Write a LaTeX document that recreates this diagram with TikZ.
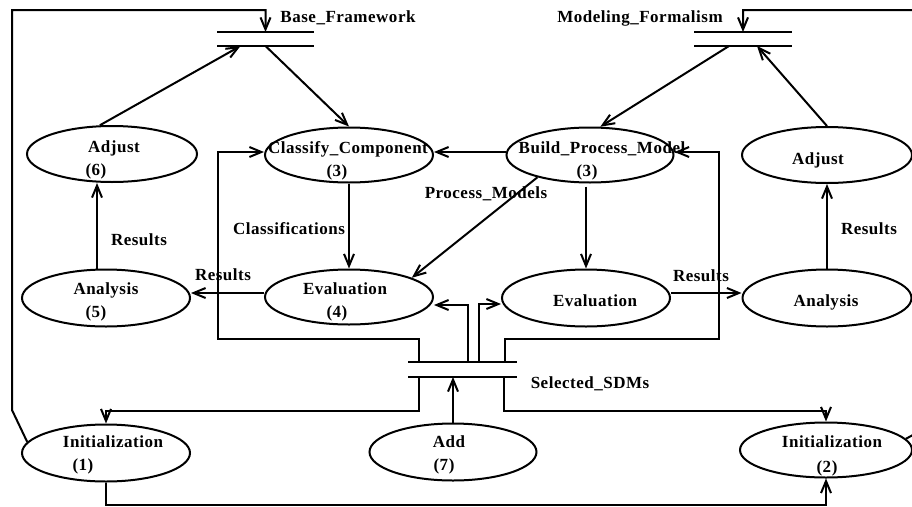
\documentclass[tikz,border=0pt]{standalone}
\usepackage{fontspec}
\setmainfont{Liberation Serif}[LetterSpace=3]
\usetikzlibrary{shapes.geometric,arrows.meta,calc}
\begin{document}
\begin{tikzpicture}[x=1pt,y=-1pt,
  line width=2pt,
  proc/.style={ellipse,draw,inner sep=0pt,minimum width=168pt,minimum height=56pt},
  txt/.style={inner sep=0pt,anchor=base,font=\fontsize{17}{20}\selectfont\bfseries},
  bar/.style={inner sep=0pt,minimum height=12pt},
  arr/.style={-{Straight Barb[length=12pt,width=10pt,line width=2pt]}},
]
\useasboundingbox (0,0) rectangle (912,506);
\fill[white] (0,0) rectangle (912,506);

% processes
\node[proc,minimum width=170pt] (adj6) at (112,154) {};
\node[proc,minimum height=55pt] (cls) at (349,155) {};
\node[proc,minimum width=167pt,minimum height=55pt] (bpm) at (590,155) {};
\node[proc,minimum width=170pt] (adjR) at (827,155) {};
\node[proc,minimum height=57pt] (ana5) at (106,298) {};
\node[proc,minimum height=55pt] (ev4) at (349,297) {};
\node[proc,minimum height=57pt] (evR) at (586,298) {};
\node[proc,minimum width=169pt,minimum height=57pt] (anaR) at (827,298) {};
\node[proc,minimum height=57pt] (init1) at (106,453) {};
\node[proc,minimum width=167pt,minimum height=57pt] (add7) at (453,452) {};
\node[proc,minimum width=172pt,minimum height=55pt] (init2) at (826,450) {};

% process texts
\node[txt] (adj6a) at (114,152) {Adjust};
\node[txt] (adj6b) at (96,175) {(6)};
\node[txt] (clsa) at (348,153) {Classify\_Component};
\node[txt] (clsb) at (337,176) {(3)};
\node[txt] (bpma) at (602,153) {Build\_Process\_Model};
\node[txt] (bpmb) at (587,176) {(3)};
\node[txt] (adjRa) at (818,164) {Adjust};
\node[txt] (ana5a) at (106,294) {Analysis};
\node[txt] (ana5b) at (96,317) {(5)};
\node[txt] (ev4a) at (345,294) {Evaluation};
\node[txt] (ev4b) at (337,317) {(4)};
\node[txt] (evRa) at (595,306) {Evaluation};
\node[txt] (anaRa) at (826,306) {Analysis};
\node[txt] (init1a) at (113,447) {Initialization};
\node[txt] (init1b) at (83,470) {(1)};
\node[txt] (add7a) at (449,447) {Add};
\node[txt] (add7b) at (444,470) {(7)};
\node[txt] (init2a) at (832,447) {Initialization};
\node[txt] (init2b) at (827,472) {(2)};

% stores
\node[bar,minimum width=95pt] (bf) at (265.5,39) {};
\node[bar,minimum width=96pt] (mf) at (743,39) {};
\node[bar,minimum width=107pt,minimum height=13pt] (sdm) at (462.5,369.5) {};
\foreach \s in {bf,mf,sdm}
  \draw (\s.north west) -- (\s.north east) (\s.south west) -- (\s.south east);
\node[txt] (bfl) at (348,22) {Base\_Framework};
\node[txt] (mfl) at (640,22) {Modeling\_Formalism};
\node[txt] (sdml) at (590,388) {Selected\_SDMs};

% flows around the stores
\draw[arr] (init1.172) -- (12,410) -- (12,10) -| (bf.north);
\draw[arr] (init2.8) -- (922,430) -- (922,10) -| (mf.north);
\draw[arr] (adj6.113) -- ($(bf.south)+(-25,0)$);
\draw[arr] (bf.south) -- (cls.north);
\draw[arr] ($(mf.south)+(-14,0)$) -- (bpm.70);
\draw[arr] (adjR.north) -- ($(mf.south)+(14,0)$);

% flows between processes
\draw[arr] ([yshift=3pt]bpm.west) -- ([yshift=3pt]cls.east);
\draw[arr] ($(sdm.north west)+(11,0)$) -- ++(0,-23) -| (218,152) -- ([yshift=3pt]cls.west);
\draw[arr] ($(sdm.north east)+(-12,0)$) -- ++(0,-23) -| (719,152) -- ([yshift=3pt]bpm.east);
\draw[arr] ($(sdm.north)+(5.5,0)$) |- ([yshift=-8pt]ev4.east);
\draw[arr] ($(sdm.north)+(16.5,0)$) |- ([yshift=-6pt]evR.west);

\draw[arr] (cls.south) -- (ev4.north);
\node[txt] (clsl) at (289,234) {Classifications};
\draw[arr] ($(evR.north)+(0,-82)$) -- (evR.north);
\draw[arr] (bpm.203) -- (ev4.17);
\node[txt] (pml) at (486,198) {Process\_Models};

\draw[arr] ([yshift=4pt]ev4.west) -- ([yshift=4pt]ev4.west -| ana5.east);
\node[txt] (r1) at (223,280) {Results};
\draw[arr] ($(ana5.north)+(-9,0)$) -- ($(adj6.south)+(-15,0)$);
\node[txt] (r2) at (139,245) {Results};
\draw[arr] ([yshift=5pt]evR.east) -- ([yshift=5pt]evR.east -| anaR.west);
\node[txt] (r3) at (701,281) {Results};
\draw[arr] (anaR.north) -- (adjR.south);
\node[txt] (r4) at (869,234) {Results};

% initialisation and additions
\draw[arr] ($(sdm.south west)+(11,0)$) -- ++(0,34) -| (init1.north);
\draw[arr] ($(sdm.south east)+(-13,0)$) -- ++(0,34) -| (init2.north);
\draw[arr] (add7.north) -- (add7.north |- sdm.south);
\draw[arr] (init1.south) -- ++(0,22) -| (init2.south);
\end{tikzpicture}
\end{document}
